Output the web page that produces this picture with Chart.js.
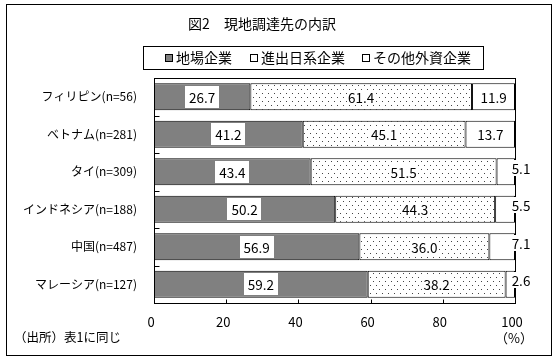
<!DOCTYPE html>
<html><head><meta charset="utf-8">
<script src="https://cdn.jsdelivr.net/npm/chart.js@4"></script>
<style>html,body{margin:0;padding:0;background:#fff}#wrap{width:556px;height:360px;position:relative}</style>
</head><body><div id="wrap"><canvas id="c" width="556" height="360"></canvas></div>
<script>
const categories = ['フィリピン(n=56)','ベトナム(n=281)','タイ(n=309)','インドネシア(n=188)','中国(n=487)','マレーシア(n=127)'];
const localFirms = [26.7, 41.2, 43.4, 50.2, 56.9, 59.2];
const japaneseFirms = [61.4, 45.1, 51.5, 44.3, 36.0, 38.2];
const otherForeign = [11.9, 13.7, 5.1, 5.5, 7.1, 2.6];
const seriesNames = ['地場企業', '進出日系企業', 'その他外資企業'];
const xTickValues = [0, 20, 40, 60, 80, 100];
const titleText = '図2\u3000現地調達先の内訳';
const sourceText = '（出所）表1に同じ';
const unitText = '（%）';

const FONT = '"Noto Sans CJK JP", "Noto Sans", sans-serif';
Chart.defaults.font.family = FONT;
Chart.defaults.color = '#000';

function makeDots() {
  const c = document.createElement('canvas');
  c.width = 6; c.height = 8;
  const g = c.getContext('2d');
  g.fillStyle = '#fff'; g.fillRect(0, 0, 6, 8);
  g.fillStyle = '#444';
  g.fillRect(1, 1, 1, 1);
  g.fillRect(4, 5, 1, 1);
  return g.createPattern(c, 'repeat');
}
const ctx = document.getElementById('c').getContext('2d');
const dots = makeDots();
const fills = ['#808080', dots, '#ffffff'];

const decor = {
  id: 'decor',
  beforeDraw(chart) {
    const c = chart.ctx;
    c.save();
    c.fillStyle = '#fff';
    c.fillRect(0, 0, chart.width, chart.height);
    c.strokeStyle = '#000'; c.lineWidth = 1;
    c.strokeRect(6.5, 4.5, 545, 351);
    c.fillStyle = '#000';
    c.textBaseline = 'middle';
    c.textAlign = 'center';
    c.font = '14px ' + FONT;
    c.fillText(titleText, 262, 24);
    // legend
    c.strokeRect(143.5, 46.5, 340, 23);
    const mx = [165, 250, 362];
    c.font = '14px ' + FONT;
    c.textAlign = 'left';
    for (let i = 0; i < 3; i++) {
      c.fillStyle = i === 0 ? '#808080' : '#fff';
      c.fillRect(mx[i], 54, 7, 7);
      c.strokeRect(mx[i] + 0.5, 54.5, 7, 7);
      c.fillStyle = '#000';
      c.fillText(chart.data.datasets[i].label, mx[i] + 11, 58);
    }
    c.font = '12.5px ' + FONT;
    c.fillText(sourceText, 14, 337);
    c.textAlign = 'center';
    c.font = '13px ' + FONT;
    c.fillText(unitText, 514, 338);
    c.restore();
  },
  beforeDatasetsDraw(chart) {
    const c = chart.ctx, a = chart.chartArea;
    const xs = chart.scales.x, ys = chart.scales.y;
    c.save();
    c.strokeStyle = '#000'; c.lineWidth = 1;
    const L = Math.round(a.left) + 0.5, R = Math.round(a.right) + 0.5;
    const T = Math.round(a.top) + 0.5, B = Math.round(a.bottom) + 0.5;
    c.strokeRect(L, T, R - L, B - T);
    c.beginPath();
    for (let i = 0; i < categories.length - 1; i++) {
      const y = Math.round((ys.getPixelForValue(i) + ys.getPixelForValue(i + 1)) / 2) + 0.5;
      c.moveTo(L, y); c.lineTo(L + 5, y);
    }
    xTickValues.forEach(v => {
      if (v === 0 || v === 100) return;
      const x = Math.round(xs.getPixelForValue(v)) + 0.5;
      c.moveTo(x, B); c.lineTo(x, B - 4);
    });
    c.stroke();
    c.restore();
  },
  afterDatasetsDraw(chart) {
    const c = chart.ctx, a = chart.chartArea;
    c.save();
    c.font = '13.5px ' + FONT;
    c.textAlign = 'center';
    c.textBaseline = 'middle';
    chart.data.datasets.forEach((ds, di) => {
      const meta = chart.getDatasetMeta(di);
      meta.data.forEach((bar, i) => {
        const p = bar.getProps(['x', 'y', 'base'], true);
        const v = ds.data[i];
        const txt = v.toFixed(1);
        const w = c.measureText(txt).width;
        let cx = (p.x + p.base) / 2, cy = p.y;
        if (di === 0) {
          c.fillStyle = '#fff';
          c.fillRect(Math.round(cx - w / 2 - 4), Math.round(cy - 11), Math.round(w + 8), 22);
        } else if (di === 1) {
          c.fillStyle = '#fff';
          c.fillRect(Math.round(cx - w / 2 - 1), Math.round(cy - 7), Math.round(w + 2), 15);
        } else if (di === 2 && v < 10) {
          cx = a.right + 6; cy = p.y - 4;
          c.fillStyle = '#fff';
          c.fillRect(Math.round(cx - w / 2 - 1), Math.round(cy - 8), Math.round(w + 2), 16);
        }
        c.fillStyle = '#000';
        c.fillText(txt, cx, cy + 1);
      });
    });
    c.restore();
  }
};

new Chart(ctx, {
  type: 'bar',
  data: {
    labels: categories,
    datasets: [localFirms, japaneseFirms, otherForeign].map((d, i) => ({
      label: seriesNames[i],
      data: d,
      backgroundColor: fills[i],
      borderColor: '#000',
      borderWidth: 1,
      borderSkipped: false,
      barPercentage: 0.72,
      categoryPercentage: 1
    }))
  },
  options: {
    indexAxis: 'y',
    responsive: false,
    animation: false,
    devicePixelRatio: 1,
    layout: { padding: { left: 0, right: 41, top: 78, bottom: 0 } },
    plugins: { legend: { display: false }, title: { display: false }, tooltip: { enabled: false } },
    scales: {
      x: {
        stacked: true, min: 0, max: 100,
        afterBuildTicks(s) { s.ticks = xTickValues.map(v => ({ value: v })); },
        afterFit(s) { s.height = 57; },
        grid: { display: false }, border: { display: false },
        ticks: { font: { size: 13 }, color: '#000', padding: 3, labelOffset: -3, maxRotation: 0 }
      },
      y: {
        stacked: true,
        afterFit(s) { s.width = 154; },
        grid: { display: false }, border: { display: false },
        ticks: { font: { size: 12 }, color: '#000', padding: 9 }
      }
    }
  },
  plugins: [decor]
});
</script>
</body></html>
